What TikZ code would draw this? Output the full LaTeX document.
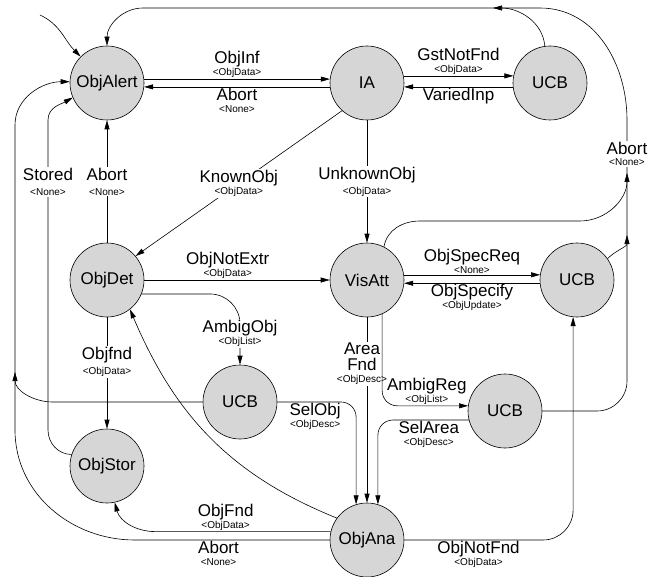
\documentclass[tikz,border=0pt]{standalone}
\usepackage{fontspec}
\setmainfont{Liberation Sans}
\usetikzlibrary{arrows.meta}
\newcommand{\lbl}[3][-5pt]{#2\\[#1]{\fontsize{10}{10}\selectfont<#3>}}
\begin{document}
\begin{tikzpicture}[x=1pt,y=1pt,line width=0.6pt,
    state/.style={circle,draw,fill=gray!32,minimum size=74pt,inner sep=0pt,font=\fontsize{17}{17}\selectfont},
    lab/.style={align=center,inner sep=1pt,font=\fontsize{17}{17}\selectfont},
    onln/.style={lab,fill=white},
    >={Triangle[length=9pt,width=5pt]}]
    \useasboundingbox (0,0) rectangle (663,-577);
    \node[state] (ObjAlert) at (107,-83) {ObjAlert};
    \node[state] (IA) at (367,-83) {IA};
    \node[state] (UCBa) at (550,-83) {UCB};
    \node[state] (ObjDet) at (107,-280) {ObjDet};
    \node[state] (VisAtt) at (367,-280) {VisAtt};
    \node[state] (UCBb) at (577,-280) {UCB};
    \node[state] (UCBc) at (240,-402) {UCB};
    \node[state] (UCBd) at (505,-411) {UCB};
    \node[state] (ObjStor) at (107,-466) {ObjStor};
    \node[state] (ObjAna) at (367,-540) {ObjAna};
    \coordinate (init) at (40,-15);
    % right margin and top
    \draw[->] (UCBd.east) -- (597,-411) to[out=0,in=-90] (627,-381)
        -- node[onln,pos=.87] {\lbl[-6pt]{Abort}{None}} (627,-120)
        to[out=90,in=0] (540,-8) -- (143,-8) to[out=180,in=90] (ObjAlert.north);
    \draw[->] (UCBa.98) to[out=95,in=0] (493,-8);
    \draw[->] (VisAtt.63) to[out=80,in=180] (420,-221) -- (580,-221) to[out=0,in=-90] (627,-173);
    \draw[->] (UCBb.35) to[out=45,in=-90] (627,-235);
    \draw[->] (init) to[out=-25,in=135] (ObjAlert.135);
    % top row
    \draw[->] (ObjAlert.6) -- node[lab,above] {\lbl{ObjInf}{ObjData}} (IA.174);
    \draw[->] (IA.186) -- node[lab,below] {\lbl{Abort}{None}} (ObjAlert.-6);
    \draw[->] (IA.11) -- node[lab,above] {\lbl{GstNotFnd}{ObjData}} (UCBa.169);
    \draw[->] (UCBa.186) -- node[lab,below] {VariedInp} (IA.-6);
    \draw[->] (ObjDet.north) -- node[onln] {\lbl[-2pt]{Abort}{None}} (ObjAlert.south);
    \draw[->] (IA.228) -- node[onln] {\lbl{KnownObj}{ObjData}} (ObjDet.40);
    \draw[->] (IA.south) -- node[onln] {\lbl[-2pt]{UnknownObj}{ObjData}} (VisAtt.north);
    % middle row
    \draw[->] (ObjDet.east) -- node[lab,above,pos=.45] {\lbl{ObjNotExtr}{ObjData}} (VisAtt.west);
    \draw[->,rounded corners=30pt] (ObjDet.-22) -| node[onln,pos=.78] {\lbl{AmbigObj}{ObjList}} (UCBc.north);
    \draw[->] (ObjDet.south) -- node[onln,pos=.4] {\lbl[-2pt]{Objfnd}{ObjData}} (ObjStor.north);
    \draw[->] (VisAtt.8) -- node[lab,above] {\lbl{ObjSpecReq}{None}} (UCBb.172);
    \draw[->] (UCBb.185) -- node[lab,below] {\lbl{ObjSpecify}{ObjUpdate}} (VisAtt.-5);
    \draw[->] (VisAtt.south) -- node[onln,pos=.25,xshift=-5pt] {Area\\[-1pt]Fnd\\[-5pt]{\fontsize{10}{10}\selectfont<ObjDesc>}} (ObjAna.north);
    \draw[->,rounded corners=15pt] (VisAtt.-66) |- node[lab,above,pos=.76] {\lbl{AmbigReg}{ObjList}} (UCBd.172);
    \draw[->,rounded corners=15pt] (UCBc.east) -| node[lab,below,pos=.24] {\lbl{SelObj}{ObjDesc}} (ObjAna.107);
    \draw[->,rounded corners=15pt] (UCBd.194) -| node[lab,below,pos=.22] {\lbl{SelArea}{ObjDesc}} (ObjAna.73);
    % bottom and left side
    \draw[->,rounded corners=30pt] (ObjAna.east) -| node[lab,below,pos=.22] {\lbl{ObjNotFnd}{ObjData}} (UCBb.-96);
    \draw[->] (ObjAna.167) -- node[lab,above,pos=.6] {\lbl{ObjFnd}{ObjData}} ++(-175,0) to[out=180,in=-75] (ObjStor.-78);
    \draw[->] (ObjAna.west) -- node[lab,below,pos=.57] {\lbl{Abort}{None}} ++(-195,0)
        to[out=180,in=-90] (15,-430) -- (15,-125) to[out=90,in=180] (ObjAlert.178);
    \draw[->] (UCBc.west) -- ++(-150,0) to[out=180,in=-90] (15,-372);
    \draw[->] (ObjAna.144) to[out=158,in=-67] (ObjDet.-52);
    \draw[->] (ObjStor.162) to[out=180,in=-90] (48,-430)
        -- node[onln,pos=.8] {\lbl[-2pt]{Stored}{None}} (48,-120) to[out=90,in=210] (ObjAlert.203);
\end{tikzpicture}
\end{document}
